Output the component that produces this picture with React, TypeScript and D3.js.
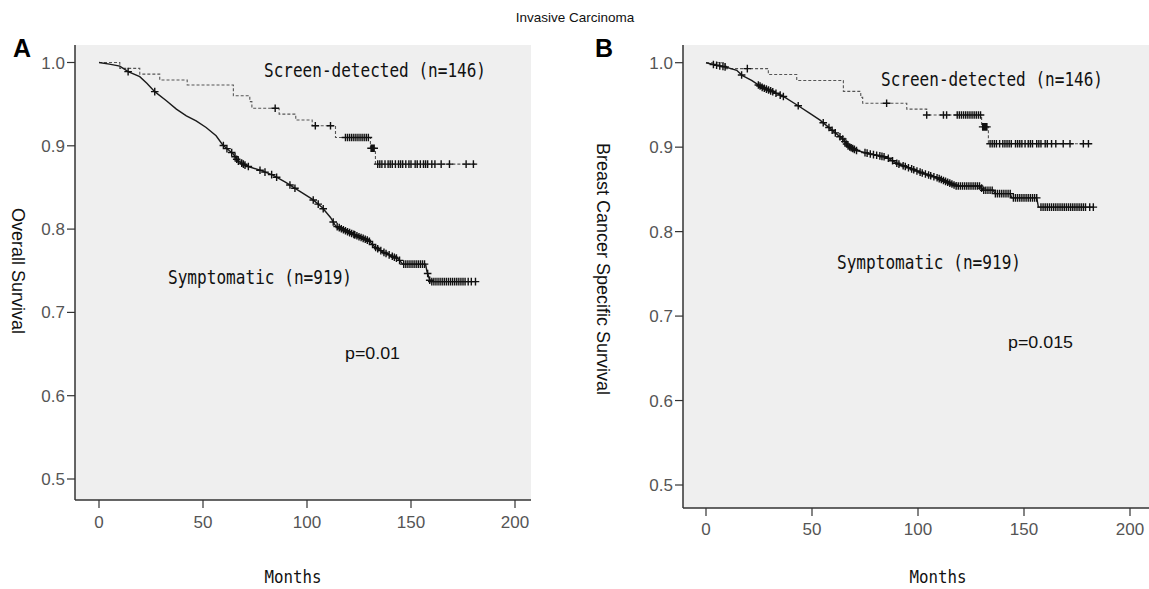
import React from "react";
import * as d3 from "d3";

// ---------- data ----------
const monthTicks = [0, 50, 100, 150, 200];
const survTicks = [0.5, 0.6, 0.7, 0.8, 0.9, 1.0];

// Panel A: overall survival
const aScreenTimes = [0, 10, 19.6, 29.2, 42.4, 64.6, 72.5, 73.5, 86.6, 94.6, 102.5, 113.7, 130.5, 132.9, 181.5];
const aScreenSurv = [1.0, 0.993, 0.986, 0.979, 0.973, 0.96, 0.953, 0.945, 0.938, 0.931, 0.924, 0.91, 0.897, 0.878, 0.878];
const aScreenCensor = [84.7, 104, 111.3, 118.5, 119.5, 120.5, 121.5, 122.5, 123.5, 124.5, 125.5, 126.5, 127.5, 128.5, 129.5, 130.8, 131.3, 131.8, 132.3, 134, 135, 136, 137.5, 139, 140, 141, 142.5, 144, 145, 146, 147.5, 149, 150, 152, 153, 154.5, 156, 157, 158, 160, 161.5, 164.5, 168.5, 176.5, 180];
const aSympTimes = [0, 5, 10, 14, 19.6, 23, 26.8, 32.4, 37.2, 42, 46.7, 51.5, 56.3, 59.5, 62.7, 64.3, 66.7, 70.7, 77, 83.4, 89.8, 96.2, 102.5, 107.3, 111.3, 113.7, 118.5, 124.9, 129.7, 132.9, 137.7, 144, 146, 157, 157.6, 159.2, 181.5];
const aSympSurv = [1.0, 0.998, 0.9956, 0.989, 0.983, 0.975, 0.965, 0.954, 0.944, 0.936, 0.93, 0.922, 0.912, 0.901, 0.894, 0.891, 0.882, 0.876, 0.871, 0.865, 0.856, 0.846, 0.836, 0.826, 0.814, 0.804, 0.798, 0.791, 0.786, 0.778, 0.771, 0.764, 0.758, 0.758, 0.75, 0.737, 0.737];
const aSympCensor = [14, 26.8, 59.8, 61.5, 63.8, 65.4, 66.2, 67, 68.6, 69.4, 70.2, 71.8, 77.4, 79.8, 83, 85.4, 91.8, 94.2, 103, 105.4, 107.8, 112.6, 114.5, 115.5, 116.5, 117.5, 118.5, 119.5, 120.5, 121.5, 122.5, 123, 124, 125, 126, 127, 128, 129, 130, 131.5, 133, 134, 135.5, 137, 138, 139.5, 141, 142, 143, 144.5, 146.5, 147.5, 148.5, 149.5, 150.5, 151.5, 152.5, 153.5, 154.5, 155.5, 156.5, 158, 159, 160, 161, 162, 163, 164, 165, 166, 167, 168, 169, 170, 171, 172, 173, 174, 175, 176, 177.5, 179, 181];

// Panel B: breast cancer specific survival
const bScreenTimes = [0, 9, 29.4, 42.8, 64.8, 73, 73.9, 94.7, 104.1, 130, 133.2, 181.4];
const bScreenSurv = [1.0, 0.993, 0.986, 0.979, 0.966, 0.959, 0.952, 0.945, 0.938, 0.924, 0.904, 0.904];
const bScreenCensor = [19.5, 85.2, 104.1, 112, 113.5, 118.5, 119.5, 120.5, 121.5, 122.5, 123.5, 124.5, 125.5, 126.5, 127.5, 128.5, 129.5, 130.5, 131, 131.5, 132, 132.5, 134, 135, 136, 137, 138.5, 140, 141, 142, 143, 144, 146, 147, 148, 149, 150.5, 152, 153, 154, 156, 157, 158, 160, 161, 163, 165, 168.5, 171.7, 178, 180.4];
const bSympTimes = [0, 5, 9, 14.5, 17, 21.5, 26.3, 30.2, 36.5, 43.5, 49, 53.8, 60, 64.8, 67.1, 71.1, 77.4, 85.2, 89.9, 96.2, 102.5, 108.8, 113.5, 118.2, 129.2, 130.8, 135.5, 136.3, 143.5, 144.2, 156, 156.8, 182.7];
const bSympSurv = [1.0, 0.997, 0.995, 0.991, 0.985, 0.979, 0.971, 0.967, 0.96, 0.949, 0.94, 0.932, 0.919, 0.909, 0.901, 0.896, 0.892, 0.888, 0.881, 0.875, 0.869, 0.864, 0.859, 0.854, 0.854, 0.849, 0.849, 0.845, 0.845, 0.84, 0.84, 0.829, 0.829];
const bSympCensor = [3.5, 5, 6.5, 8, 9, 16.8, 24.7, 25.5, 26.5, 27.5, 28.5, 29.5, 30.5, 31.5, 33, 35, 36.5, 43.5, 55.3, 58, 59.5, 61, 63.2, 64.5, 65.5, 66.3, 67, 67.8, 68.5, 69.2, 70, 71, 75, 76, 77.5, 79, 80.5, 82, 83, 84, 86, 88, 90, 91, 93, 94, 95.5, 97, 98, 99.5, 101, 102, 103.5, 105, 106, 107.5, 109, 110, 111, 112, 113, 114, 115, 116, 117, 118, 119, 120, 121, 122, 123, 124, 125, 126, 127, 128, 129, 130, 131, 132, 133, 134, 135, 136.5, 137.5, 138.5, 139.5, 140.5, 141.5, 142.5, 143.5, 145, 146, 147, 148, 149, 150, 151, 152, 153, 154, 155, 156, 158, 159, 160, 161, 162, 163, 164, 165, 166, 167, 168, 169, 170, 171, 172, 173, 174, 175, 176, 177, 178, 179, 181, 182.7];

const titleText = "Invasive Carcinoma";
const panelLetters = ["A", "B"];
const yTitles = ["Overall Survival", "Breast Cancer Specific Survival"];
const pValues = ["p=0.01", "p=0.015"];
const screenLabel = "Screen-detected (n=146)";
const sympLabel = "Symptomatic (n=919)";
const xTitle = "Months";

const W = 1149;
const H = 589;
const MONO = "'DejaVu Sans Mono', 'Liberation Mono', monospace";
const SANS = "'Liberation Sans', Arial, sans-serif";

type Geo = {
  left: number; right: number; top: number; axisY: number;
  x0: number; x1: number; y1: number; y05: number;
  letterX: number; letterY: number;
  yTitleX: number; yTitleY: number;
  tickLabelY: number; monthsX: number;
  screenX: number; screenY: number; screenW: number;
  sympX: number; sympY: number; sympW: number;
  pX: number; pY: number; pW: number;
};

const geos: Geo[] = [
  {
    left: 75, right: 531, top: 45, axisY: 500,
    x0: 99, x1: 515, y1: 62.5, y05: 479,
    letterX: 13, letterY: 57,
    yTitleX: 12, yTitleY: 271,
    tickLabelY: 528, monthsX: 293,
    screenX: 264, screenY: 77, screenW: 222,
    sympX: 168, sympY: 284, sympW: 184,
    pX: 345, pY: 359, pW: 55,
  },
  {
    left: 683, right: 1149, top: 45, axisY: 508,
    x0: 706, x1: 1130, y1: 62.7, y05: 485,
    letterX: 595, letterY: 57,
    yTitleX: 597, yTitleY: 269,
    tickLabelY: 535, monthsX: 938,
    screenX: 881, screenY: 86, screenW: 222,
    sympX: 837, sympY: 269, sympW: 184,
    pX: 1008, pY: 348, pW: 65,
  },
];

const series = [
  {
    screen: { t: aScreenTimes, s: aScreenSurv, c: aScreenCensor },
    symp: { t: aSympTimes, s: aSympSurv, c: aSympCensor },
  },
  {
    screen: { t: bScreenTimes, s: bScreenSurv, c: bScreenCensor },
    symp: { t: bSympTimes, s: bSympSurv, c: bSympCensor },
  },
];

function crossPath(x: number, y: number, r: number) {
  return `M${x - r},${y}H${x + r}M${x},${y - r}V${y + r}`;
}

function Panel({ i }: { i: number }) {
  const g = geos[i];
  const d = series[i];
  const x = d3.scaleLinear().domain([0, 200]).range([g.x0, g.x1]);
  const y = d3.scaleLinear().domain([0.5, 1.0]).range([g.y05, g.y1]);

  const stepLine = d3
    .line<[number, number]>()
    .x((p) => x(p[0]))
    .y((p) => y(p[1]))
    .curve(d3.curveStepAfter);
  const linLine = d3
    .line<[number, number]>()
    .x((p) => x(p[0]))
    .y((p) => y(p[1]));

  const screenPts = d.screen.t.map((t, k) => [t, d.screen.s[k]] as [number, number]);
  const sympPts = d.symp.t.map((t, k) => [t, d.symp.s[k]] as [number, number]);

  const stepAt = (t: number) => {
    const k = d3.bisectRight(d.screen.t, t) - 1;
    return d.screen.s[Math.max(0, k)];
  };
  const sympAt = d3.scaleLinear().domain(d.symp.t).range(d.symp.s).clamp(true);

  const screenCross = d.screen.c.map((t) => crossPath(x(t), y(stepAt(t)), 3.8)).join("");
  const sympCross = d.symp.c.map((t) => crossPath(x(t), y(sympAt(t)), 3.8)).join("");

  return (
    <g>
      <rect x={g.left} y={g.top} width={g.right - g.left} height={g.axisY - g.top} fill="#efefef" />
      <line x1={g.left} x2={g.left} y1={g.top} y2={g.axisY} stroke="#333" strokeWidth={1.5} />
      <line x1={g.left} x2={g.right} y1={g.axisY} y2={g.axisY} stroke="#333" strokeWidth={1.5} />
      {survTicks.map((v) => (
        <g key={"y" + v}>
          <line x1={g.left - 8} x2={g.left} y1={y(v)} y2={y(v)} stroke="#333" strokeWidth={1.2} />
          <text x={g.left - 10} y={y(v) + 6} textAnchor="end" fontFamily={SANS} fontSize={17} fill="#555">
            {v.toFixed(1)}
          </text>
        </g>
      ))}
      {monthTicks.map((m) => (
        <g key={"x" + m}>
          <line x1={x(m)} x2={x(m)} y1={g.axisY} y2={g.axisY + 8} stroke="#333" strokeWidth={1.2} />
          <text x={x(m)} y={g.tickLabelY} textAnchor="middle" fontFamily={SANS} fontSize={17} fill="#555">
            {m}
          </text>
        </g>
      ))}
      <path d={stepLine(screenPts) || ""} fill="none" stroke="#555" strokeWidth={1.1} strokeDasharray="3 2" />
      <path d={linLine(sympPts) || ""} fill="none" stroke="#1a1a1a" strokeWidth={1.4} />
      <path d={screenCross} fill="none" stroke="#111" strokeWidth={1.4} />
      <path d={sympCross} fill="none" stroke="#111" strokeWidth={1.4} />
      <text x={g.letterX} y={g.letterY} fontFamily={SANS} fontWeight="bold" fontSize={25} fill="#000">
        {panelLetters[i]}
      </text>
      <text
        transform={`translate(${g.yTitleX},${g.yTitleY}) rotate(90)`}
        textAnchor="middle"
        fontFamily={SANS}
        fontSize={18}
        fill="#111"
      >
        {yTitles[i]}
      </text>
      <text x={g.monthsX} y={583} textAnchor="middle" fontFamily={MONO} fontSize={18} fill="#111"
        textLength={57} lengthAdjust="spacingAndGlyphs">
        {xTitle}
      </text>
      <text x={g.screenX} y={g.screenY} fontFamily={MONO} fontSize={19} fill="#111"
        textLength={g.screenW} lengthAdjust="spacingAndGlyphs">
        {screenLabel}
      </text>
      <text x={g.sympX} y={g.sympY} fontFamily={MONO} fontSize={19} fill="#111"
        textLength={g.sympW} lengthAdjust="spacingAndGlyphs">
        {sympLabel}
      </text>
      <text x={g.pX} y={g.pY} fontFamily={SANS} fontSize={17} fill="#111"
        textLength={g.pW} lengthAdjust="spacingAndGlyphs">
        {pValues[i]}
      </text>
    </g>
  );
}

export default function App() {
  return (
    <div style={{ position: "absolute", left: 0, top: 0, width: W, height: H, background: "#fff" }}>
      <svg width={W} height={H} style={{ display: "block" }}>
        <rect x={0} y={0} width={W} height={H} fill="#fff" />
        <text x={575} y={22} textAnchor="middle" fontFamily={SANS} fontSize={13.5} fill="#111">
          {titleText}
        </text>
        <Panel i={0} />
        <Panel i={1} />
      </svg>
    </div>
  );
}
